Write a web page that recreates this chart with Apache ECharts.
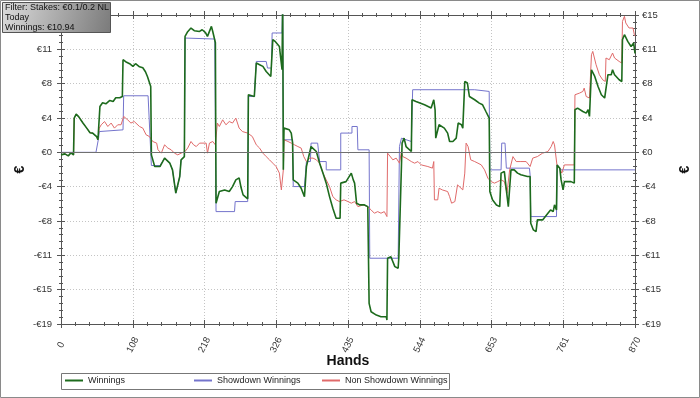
<!DOCTYPE html>
<html lang="en">
<head>
<meta charset="UTF-8">
<title>Winnings</title>
<script src="https://cdn.jsdelivr.net/npm/echarts@6/dist/echarts.min.js"></script>
<style>
    html, body { margin: 0; padding: 0; background: #fff; }
    #main { width: 700px; height: 398px; }
</style>
</head>
<body>
<div id="main"></div>
<script>
    // hands axis tick labels, as printed
    const handLabels = ['0', '108', '218', '326', '435', '544', '653', '761', '870'];
    // [hand, euro]
    const winnings = [[0,-0.28],[6,-0.17],[11,-0.39],[15,-0.06],[19,-0.28],[20,3.79],[23,4.23],[27,3.93],[33,3.27],[39,2.68],
        [44,2.16],[48,2.13],[54,1.75],[56,1.39],[59,5.07],[63,5.48],[68,5.37],[74,5.74],[79,5.63],[83,6.04],
        [89,6.04],[93,6.18],[94,10.25],[98,10.03],[104,9.81],[109,9.51],[113,9.81],[119,9.47],[124,9.36],[128,8.92],
        [131,8.40],[136,7.29],[137,-0.28],[142,-1.57],[150,-1.57],[157,-0.64],[165,-1.20],[169,-1.94],[174,-4.52],[177,-4.49],
        [180,-2.68],[182,-0.83],[187,-0.47],[188,12.83],[192,13.35],[197,13.76],[202,13.46],[210,13.38],[214,13.57],[219,13.24],
        [222,12.83],[228,13.94],[230,13.38],[234,12.13],[235,-5.63],[240,-4.34],[248,-4.16],[255,-4.34],[260,-3.79],[265,-3.05],
        [270,-2.83],[273,-3.93],[276,-4.71],[283,-5.15],[284,6.37],[293,6.18],[296,9.88],[301,9.70],[306,9.51],[311,8.95],
        [318,8.40],[321,12.47],[325,12.24],[331,11.72],[335,9.14],[336,17],[337,-1.94],[338,2.68],[346,2.49],[349,2.13],
        [351,1.05],[352,-3.05],[359,-3.41],[364,-3.97],[369,-4.90],[372,-1.57],[379,0.64],[387,0.09],[392,-1.20],[397,-2.30],
        [402,-3.41],[407,-4.90],[412,-6.18],[417,-7.29],[423,-7.29],[424,-3.41],[432,-3.24],[440,-2.30],[443,-3.05],[445,-3.41],
        [448,-5.63],[453,-5.82],[460,-5.82],[465,-6.01],[467,-16.71],[470,-17.64],[478,-18.01],[485,-18.19],[493,-18.19],[494,-18.56],
        [495,-11.72],[500,-11.55],[506,-12.65],[511,-12.83],[512,-11.69],[517,1.02],[520,1.57],[523,0.64],[531,0.09],[532,5.82],
        [538,5.63],[551,5.26],[561,4.90],[565,5.82],[567,4.71],[568,1.57],[573,3.05],[581,2.68],[586,2.13],[589,1.20],
        [594,1.20],[599,1.57],[602,3.24],[607,3.05],[609,2.68],[612,7.84],[616,7.67],[619,6.18],[627,5.82],[634,5.45],
        [639,5.26],[644,4.52],[649,3.79],[650,-4.34],[654,-5.26],[660,-5.82],[665,-6.01],[667,-2.30],[672,-2.13],[675,-4.16],
        [678,-6.01],[682,-1.94],[687,-1.94],[692,-2.30],[697,-2.49],[707,-2.68],[711,-2.68],[712,-7.84],[716,-8.59],[720,-8.78],
        [722,-7.48],[730,-7.48],[733,-7.48],[738,-6.74],[742,-6.37],[746,-6.56],[748,-5.82],[751,-6.37],[752,-1.39],[756,-1.75],
        [758,-3.05],[761,-4.16],[763,-3.24],[773,-3.24],[778,-3.41],[779,4.71],[783,4.90],[791,4.52],[796,4.34],[799,4.71],
        [801,3.97],[804,9.14],[809,8.40],[814,7.29],[819,6.37],[824,6.01],[826,6.18],[829,8.59],[834,8.59],[836,9.14],
        [839,8.59],[846,8.03],[850,7.84],[851,12.47],[854,13.02],[856,13.21],[859,12.28],[864,11.72],[867,11.55],[868,12.10],
        [870,10.94]];
    const showdown = [[0,0],[53,0],[57,1.57],[58,2.30],[94,2.49],[95,6.26],[132,6.26],[137,-1.46],[150,-1.46],[157,-0.64],
        [165,-1.20],[169,-1.94],[174,-4.52],[177,-4.49],[180,-2.68],[182,-0.83],[187,-0.47],[188,12.65],[233,12.54],[235,-6.56],
        [263,-6.56],[264,-5.45],[283,-5.45],[284,6.18],[293,6.18],[296,10.06],[311,10.06],[313,9.33],[319,9.33],[320,13.21],
        [335,13.21],[336,17],[337,1.39],[351,1.39],[352,-3.79],[369,-3.79],[372,-1.02],[378,-1.02],[379,1.02],[389,1.02],
        [392,-1.02],[402,-1.02],[402,-1.94],[424,-1.94],[424,2.13],[441,2.13],[441,2.86],[449,2.86],[450,0.28],[467,0.28],
        [468,-11.72],[511,-11.72],[513,0.64],[516,1.57],[531,1.20],[533,6.93],[627,6.93],[627,6.74],[649,6.74],[650,-1.94],
        [667,-1.94],[668,1.02],[673,1.02],[675,-1.75],[710,-1.75],[711,-2.49],[712,-7.11],[751,-7.11],[752,-1.39],[758,-1.94],
        [870,-1.94]];
    const nonShowdown = [[0,-0.28],[6,-0.17],[11,-0.39],[15,-0.06],[19,-0.28],[20,3.79],[23,4.23],[27,3.93],[33,3.27],[39,2.68],
        [44,2.16],[48,2.13],[54,1.75],[56,1.39],[58,2.68],[61,3.05],[66,3.41],[71,2.86],[76,3.24],[81,2.68],
        [86,3.05],[91,3.05],[95,3.97],[101,3.60],[106,3.24],[111,3.41],[119,2.86],[124,2.68],[129,1.94],[134,1.75],
        [139,1.20],[145,1.02],[147,0.28],[152,-0.09],[157,0.83],[162,0.47],[167,0.28],[172,-0.09],[177,-0.28],[182,-0.09],
        [188,0.09],[192,0.47],[197,1.20],[201,0.83],[205,0.64],[210,1.02],[220,1.02],[222,-0.09],[225,1.02],[230,1.20],
        [234,0.83],[237,3.24],[240,2.86],[245,3.60],[250,3.05],[255,3.41],[260,3.24],[265,3.79],[270,2.68],[275,2.30],
        [283,2.13],[290,1.75],[296,0.83],[301,0.47],[306,-0.09],[311,-0.47],[316,-0.83],[321,-1.20],[326,-1.57],[331,-2.30],
        [334,-4.16],[335,-4.34],[337,-1.94],[338,1.39],[344,1.20],[349,1.02],[354,0.83],[359,0.64],[364,0.47],[368,-0.47],
        [372,-1.02],[377,-0.64],[382,-0.64],[387,-0.83],[392,-1.20],[397,-2.30],[402,-3.05],[407,-3.79],[412,-4.90],[417,-5.26],
        [422,-5.45],[429,-5.26],[435,-5.45],[440,-5.63],[445,-5.45],[450,-6.01],[458,-5.82],[465,-6.01],[470,-6.37],[475,-6.74],
        [480,-6.56],[485,-6.74],[490,-6.56],[494,-7.11],[495,-0.09],[498,0.09],[503,-0.83],[508,-0.64],[513,-1.20],[516,0.09],
        [518,-0.47],[523,-0.64],[531,-1.02],[536,-1.20],[541,-1.02],[546,-1.39],[556,-1.57],[563,-1.75],[565,-1.02],[566,-5.26],
        [571,-5.26],[573,-3.97],[578,-4.16],[586,-4.34],[589,-4.90],[592,-5.63],[597,-5.45],[601,-3.60],[604,-3.41],[609,-4.16],
        [612,-2.30],[614,1.02],[617,0.64],[621,-0.83],[627,-1.02],[632,-1.20],[637,-1.39],[642,-1.94],[647,-2.86],[652,-3.24],
        [657,-3.41],[662,-3.24],[667,-3.05],[672,-3.24],[676,-4.52],[680,-1.94],[685,-0.47],[690,-1.02],[697,-1.02],[705,-1.02],
        [711,-1.57],[715,-0.64],[722,-0.47],[730,-0.09],[738,0.09],[743,0.64],[746,1.20],[748,0.83],[751,0.64],[752,-1.57],
        [756,-1.75],[759,-2.30],[763,-1.39],[778,-1.39],[779,6.37],[786,6.56],[791,6.74],[793,7.11],[796,6.18],[801,6.01],
        [804,10.80],[806,11.17],[811,9.70],[816,8.59],[821,8.03],[825,7.84],[826,10.44],[831,10.25],[836,10.99],[839,10.44],
        [846,10.06],[850,9.88],[851,14.49],[854,15.05],[856,14.32],[861,13.76],[864,13.57],[867,13.76],[869,13.02],[870,12.88]];

    const infoLines = ['Filter: Stakes: €0.1/0.2 NL', 'Today', 'Winnings: €10.94'];

    const labelFont = 'Liberation Sans';

    function euro(v) {
        let r = Math.round(Math.abs(v));
        if (r === 0) return '€0';
        return (v < 0 ? '-€' : '€') + r;
    }

    // one axis drawn twice (ticks out + ticks in) so the ticks cross the line like the original
    function xAx(pos, inside, withLabels) {
        return {
            type: 'value', position: pos, min: 0, max: 870, interval: 108.75,
            axisLine: {show: !inside, onZero: false, lineStyle: {color: '#555'}},
            axisTick: {show: true, inside: inside, length: 4, lineStyle: {color: '#555'}},
            minorTick: {show: true, splitNumber: 5, length: 2, lineStyle: {color: '#555'}},
            axisLabel: withLabels ? {
                show: true, rotate: 63, margin: 21, align: 'center', verticalAlign: 'middle',
                fontSize: 9.5, fontFamily: labelFont, color: '#333',
                formatter: v => handLabels[Math.round(v / 108.75)]
            } : {show: false},
            splitLine: withLabels ? {show: true, lineStyle: {color: '#c4c4c4', type: [1, 2]}} : {show: false},
            name: withLabels ? 'Hands' : '',
            nameLocation: 'middle', nameGap: 30, nameMoveOverlap: false,
            nameTextStyle: {fontFamily: labelFont, fontWeight: 'bold', fontSize: 14, color: '#111'}
        };
    }
    function yAx(pos, inside, withLabels, gap) {
        return {
            type: 'value', position: pos, min: -19, max: 15.2, interval: 3.8,
            axisLine: {show: !inside, onZero: false, lineStyle: {color: '#555'}},
            axisTick: {show: true, inside: inside, length: 4, lineStyle: {color: '#555'}},
            minorTick: {show: true, splitNumber: 5, length: 2, lineStyle: {color: '#555'}},
            axisLabel: withLabels ? {
                show: true, margin: pos === 'left' ? 9 : 7, fontSize: 9.5, fontFamily: labelFont, color: '#333',
                formatter: euro
            } : {show: false},
            splitLine: (withLabels && pos === 'left') ? {show: true, lineStyle: {color: '#c4c4c4', type: [1, 2]}} : {show: false},
            name: withLabels ? '€' : '',
            nameLocation: 'middle', nameGap: gap || 0, nameRotate: 90, nameMoveOverlap: false,
            nameTextStyle: {fontFamily: labelFont, fontWeight: 'bold', fontSize: 14, color: '#111'}
        };
    }

    function lineSeries(name, data, color, width, z) {
        return {
            name: name, type: 'line', data: data, symbol: 'none', z: z,
            xAxisIndex: 0, yAxisIndex: 0,
            lineStyle: {color: color, width: width}, itemStyle: {color: color},
            silent: true
        };
    }

    let myChart = echarts.init(document.getElementById('main'), null, {renderer: 'canvas'});

    let sd = lineSeries('Showdown Winnings', showdown, '#7474cc', 1, 2);
    sd.markLine = {
        silent: true, symbol: 'none', label: {show: false},
        lineStyle: {color: '#707070', width: 1, type: 'solid'},
        data: [{yAxis: 0}]
    };

    const legendBase = {
        top: 376, itemWidth: 18, itemHeight: 2, icon: 'rect', itemGap: 0, padding: 0,
        textStyle: {fontFamily: labelFont, fontSize: 9, color: '#222'},
        selectedMode: false
    };

    let option = {
        animation: false,
        backgroundColor: '#fff',
        grid: {left: 61, right: 62, top: 15, bottom: 74},
        xAxis: [xAx('bottom', false, true), xAx('bottom', true, false), xAx('top', false, false), xAx('top', true, false)],
        yAxis: [yAx('left', false, true, 34), yAx('left', true, false), yAx('right', false, true, 43), yAx('right', true, false)],
        legend: [
            Object.assign({left: 65, data: ['Winnings']}, legendBase),
            Object.assign({left: 194, data: ['Showdown Winnings']}, legendBase),
            Object.assign({left: 322, data: ['Non Showdown Winnings']}, legendBase)
        ],
        series: [
            sd,
            lineSeries('Non Showdown Winnings', nonShowdown, '#e06a6a', 1, 3),
            lineSeries('Winnings', winnings, '#1d6b1d', 1.6, 4)
        ],
        graphic: [
            {type: 'rect', z: 100, silent: true,
                shape: {x: 0.5, y: 0.5, width: 699, height: 397},
                style: {fill: 'none', stroke: '#8a8a8a', lineWidth: 1}},
            {type: 'rect', z: 100, silent: true,
                shape: {x: 61.5, y: 373.5, width: 388, height: 16},
                style: {fill: 'none', stroke: '#777', lineWidth: 1}},
            {type: 'rect', z: 100, silent: true,
                shape: {x: 2.5, y: 2.5, width: 108, height: 30},
                style: {
                    fill: new echarts.graphic.LinearGradient(0, 0, 1, 1, [
                        {offset: 0, color: '#dcdcdc'}, {offset: 1, color: '#7a7a7a'}
                    ]),
                    stroke: '#555', lineWidth: 1
                }},
            {type: 'text', z: 101, silent: true, x: 5, y: 3,
                style: {text: infoLines.join('\n'), font: '9px Liberation Sans', fill: '#111', lineHeight: 10}}
        ]
    };
    myChart.setOption(option);
</script>
</body>
</html>
